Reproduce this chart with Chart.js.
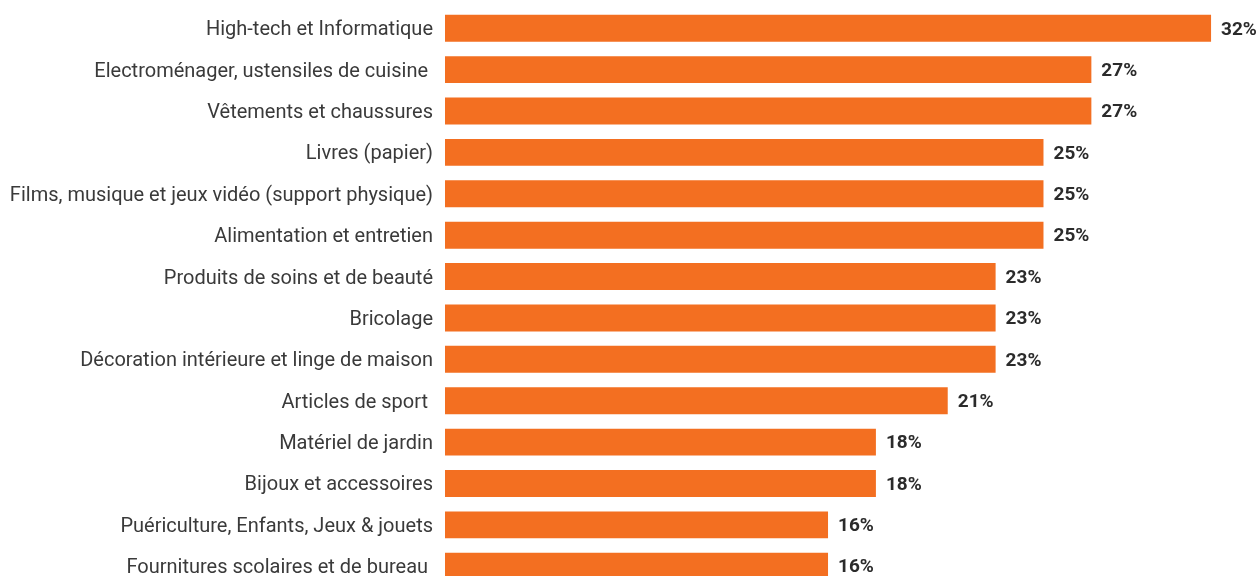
<!DOCTYPE html>
<html lang="fr">
<head>
<meta charset="utf-8">
<title>Catégories de produits</title>
<script src="https://cdn.jsdelivr.net/npm/chart.js@4"></script>
<style>
    html, body { margin: 0; padding: 0; background: #fff; overflow: hidden; }
    #wrap { width: 1259px; height: 600px; }
</style>
</head>
<body>
<div id="wrap"><canvas id="chart" width="1259" height="600"></canvas></div>
<script>
// Catégories (ordre d'affichage, de haut en bas)
const categories = [
    'High-tech et Informatique',
    'Electroménager, ustensiles de cuisine ',
    'Vêtements et chaussures',
    'Livres (papier)',
    'Films, musique et jeux vidéo (support physique)',
    'Alimentation et entretien',
    'Produits de soins et de beauté',
    'Bricolage',
    'Décoration intérieure et linge de maison',
    'Articles de sport ',
    'Matériel de jardin',
    'Bijoux et accessoires',
    'Puériculture, Enfants, Jeux & jouets',
    'Fournitures scolaires et de bureau '
];

// Pourcentages
const values = [32, 27, 27, 25, 25, 25, 23, 23, 23, 21, 18, 18, 16, 16];

const BAR_COLOR = '#f36f21';
const TEXT_COLOR = '#3a3a3a';
const VALUE_COLOR = '#2b2b2b';

// Étiquettes de valeur à droite des barres
const valueLabels = {
    id: 'valueLabels',
    afterDatasetsDraw(chart) {
        const { ctx } = chart;
        const meta = chart.getDatasetMeta(0);
        ctx.save();
        ctx.font = 'bold 19px Roboto, "DejaVu Sans", sans-serif';
        ctx.fillStyle = VALUE_COLOR;
        ctx.textAlign = 'left';
        ctx.textBaseline = 'middle';
        meta.data.forEach((bar, i) => {
            ctx.fillText(values[i] + '%', bar.x + 10, bar.y + 1.5);
        });
        ctx.restore();
    }
};

new Chart(document.getElementById('chart').getContext('2d'), {
    type: 'bar',
    data: {
        labels: categories,
        datasets: [{
            data: values,
            backgroundColor: BAR_COLOR,
            borderWidth: 0,
            barPercentage: 0.65,
            categoryPercentage: 1
        }]
    },
    options: {
        indexAxis: 'y',
        responsive: false,
        animation: false,
        layout: { padding: { top: 7.6, bottom: 13.1, left: 0, right: 24 } },
        plugins: {
            legend: { display: false },
            tooltip: { enabled: false }
        },
        scales: {
            x: {
                display: false,
                min: 0,
                max: 33
            },
            y: {
                afterFit: (scale) => {
                    scale.width = 445;
                    scale.paddingTop = 0;
                    scale.paddingBottom = 0;
                },
                grid: { display: false, drawTicks: false },
                border: { display: false },
                ticks: {
                    color: TEXT_COLOR,
                    padding: 12,
                    labelOffset: 2,
                    font: { family: 'Roboto, "DejaVu Sans", sans-serif', size: 20 }
                }
            }
        }
    },
    plugins: [valueLabels]
});
</script>
</body>
</html>
